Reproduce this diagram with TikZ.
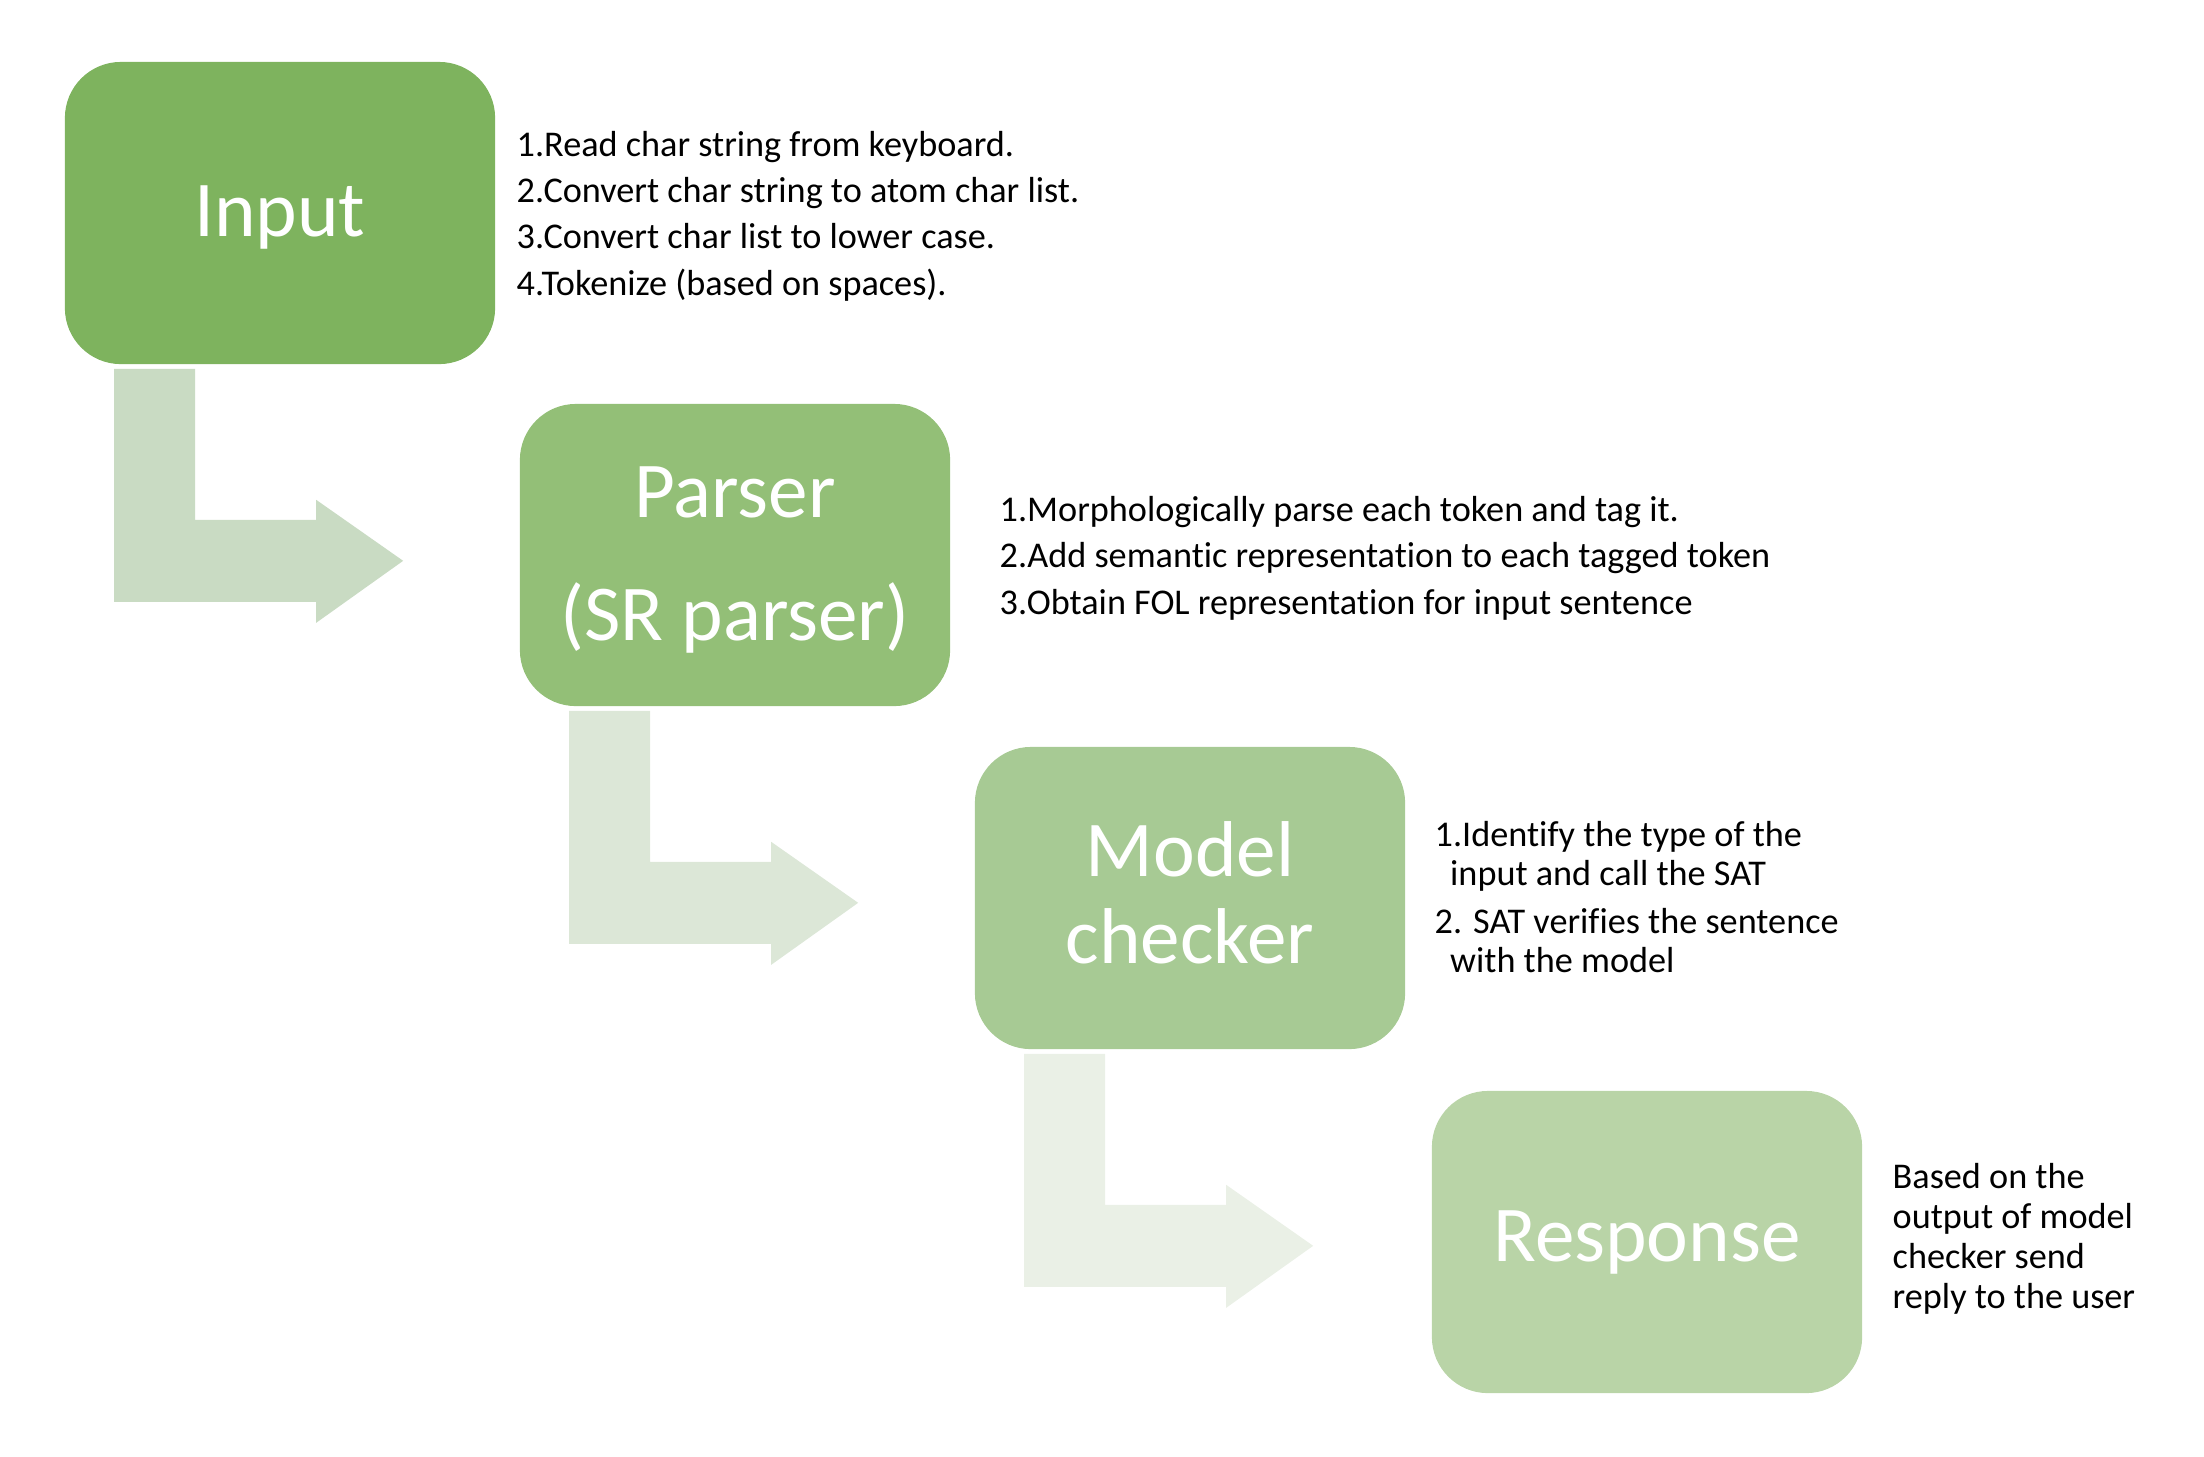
\documentclass[tikz,border=0pt]{standalone}
\usepackage{fontspec}
\setmainfont{Carlito}[RawFeature=-liga]
\usepackage{xcolor}
\usepackage{tikz}
\definecolor{stepOne}{HTML}{7EB35E}
\definecolor{stepTwo}{HTML}{93BF77}
\definecolor{stepThree}{HTML}{A7CA94}
\definecolor{stepFour}{HTML}{B9D4A7}
\definecolor{bendOne}{HTML}{C9DBC3}
\definecolor{bendTwo}{HTML}{DCE7D7}
\definecolor{bendThree}{HTML}{EAF0E6}

\tikzset{
  stagebox/.style={fill=#1, draw=none, rounded corners=0.56cm, minimum width=4.3cm,
    minimum height=3.02cm, text=white, align=center, inner sep=0pt},
  stagetext/.style={text=white, align=center, inner sep=0pt},
  notes/.style={anchor=west, align=left, inner sep=0pt, text=black}
}

% bent arrow hanging under a stage box
\newcommand{\bendarrow}[2]{%
  \begin{scope}[shift={(#2.south west)}]
    \fill[#1] (50,4) -- (131,4) -- (131,155) -- (252,155) -- (252,135) -- (339,196)
      -- (252,258) -- (252,237) -- (50,237) -- cycle;
  \end{scope}}

\begin{document}
\begin{tikzpicture}[x=0.01cm, y=-0.01cm]
  \useasboundingbox (0,0) rectangle (2204,1456);

  \node[stagebox=stepOne] (input) at (280,213) {};
  \node[stagebox=stepTwo] (parser) at (735,555) {};
  \node[stagebox=stepThree] (model) at (1190,898) {};
  \node[stagebox=stepFour] (response) at (1647,1242) {};

  \node[stagetext, font=\fontsize{22.5}{27}\selectfont] (inputlabel) at (280,217) {Input};
  \node[stagetext, font=\fontsize{22.5}{35.2}\selectfont] (parserlabel) at (735,560) {Parser\\(SR parser)};
  \node[stagetext, font=\fontsize{22.5}{24.6}\selectfont] (modellabel) at (1190,893) {Model\\checker};
  \node[stagetext, font=\fontsize{22.5}{27}\selectfont] (responselabel) at (1647,1242) {Response};

  \bendarrow{bendOne}{input}
  \bendarrow{bendTwo}{parser}
  \bendarrow{bendThree}{model}

  \node[notes, font=\fontsize{10.3}{13.2}\selectfont] (inputnotes) at (516,216)
    {1.Read char string from keyboard.\\2.Convert char string to atom char list.\\
     3.Convert char list to lower case.\\4.Tokenize (based on spaces).};
  \node[notes, font=\fontsize{10.3}{13.2}\selectfont] (parsernotes) at (999,558)
    {1.Morphologically parse each token and tag it.\\
     2.Add semantic representation to each tagged token\\
     3.Obtain FOL representation for input sentence};
  \node[notes, font=\fontsize{10.3}{11.2}\selectfont] (modelnotes) at (1434,897)
    {1.Identify the type of the\\\hspace{4.4pt}input and call the SAT\\[2.4pt]
     2. SAT verifies the sentence\\\hspace{4.4pt}with the model};
  \node[notes, font=\fontsize{10.3}{11.4}\selectfont] (responsenotes) at (1892,1239)
    {Based on the\\output of model\\checker send\\reply to the user};
\end{tikzpicture}
\end{document}
